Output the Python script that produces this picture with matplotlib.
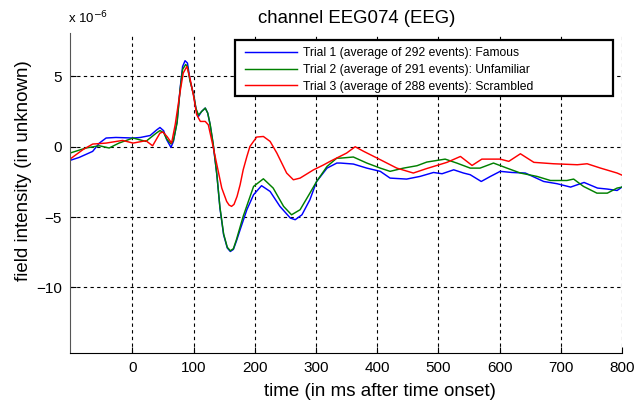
import matplotlib
matplotlib.use("Agg")
import matplotlib.pyplot as plt
from matplotlib.patches import Rectangle

plt.rcParams['font.family'] = ['Liberation Sans', 'DejaVu Sans']

title = "channel EEG074 (EEG)"
xlabel = "time (in ms after time onset)"
ylabel = "field intensity (in unknown)"
labels = ["Trial 1 (average of 292 events): Famous",
          "Trial 2 (average of 291 events): Unfamiliar",
          "Trial 3 (average of 288 events): Scrambled"]
colors = ["#0000ff", "#008000", "#ff0000"]

xticks = [0, 100, 200, 300, 400, 500, 600, 700, 800]
yticks = [-10, -5, 0, 5]

# values in units of 1e-6
t_famous = [-102, -87, -65, -54, -43, -27, 1, 13, 29, 40, 45, 51, 56, 63, 67, 73, 78, 82,
            86, 90, 94, 100, 104, 108, 113, 119, 123, 127, 132, 138, 143, 149, 155, 160,
            165, 170, 176, 187, 198, 211, 225, 241, 258, 266, 277, 290, 301, 318, 334, 340,
            361, 383, 405, 421, 448, 470, 492, 506, 525, 541, 552, 570, 585, 601, 620, 642,
            672, 694, 716, 738, 760, 776, 792, 800]
v_famous = [-0.97, -0.76, -0.33, 0.26, 0.62, 0.66, 0.62, 0.66, 0.8, 1.21, 1.37, 1.14, 0.5,
            -0.05, 0.38, 1.8, 4.17, 5.71, 6.12, 5.95, 4.76, 3.7, 2.63, 2.16, 2.51, 2.75, 2.4,
            1.56, 0.14, -2.0, -4.36, -6.26, -7.2, -7.45, -7.3, -6.7, -5.9, -4.48, -3.41,
            -2.77, -3.18, -4.24, -5.07, -5.19, -4.84, -3.77, -2.47, -1.52, -1.16, -1.16,
            -1.23, -1.52, -1.75, -2.23, -2.3, -2.11, -1.83, -1.92, -1.64, -1.87, -1.99,
            -2.47, -2.11, -1.75, -1.83, -1.87, -2.47, -2.63, -2.87, -2.54, -2.94, -3.01,
            -3.11, -2.87]

t_unfamiliar = [-102, -76, -54, -38, -22, 1, 22, 39, 45, 51, 56, 63, 67, 73, 78, 82, 87, 90,
                94, 100, 104, 108, 113, 119, 123, 127, 132, 138, 143, 149, 155, 160, 165,
                170, 181, 198, 214, 230, 247, 260, 274, 290, 301, 318, 334, 340, 361, 383,
                405, 421, 443, 465, 481, 511, 530, 552, 568, 590, 612, 634, 661, 683, 710,
                721, 737, 759, 776, 792, 800]
v_unfamiliar = [-0.45, -0.09, 0.07, -0.09, 0.26, 0.62, 0.38, 0.97, 1.15, 1.0, 0.55, 0.2,
                0.45, 1.7, 4.1, 5.5, 5.85, 5.7, 4.7, 3.7, 2.7, 2.25, 2.5, 2.75, 2.4, 1.6, 0.2,
                -2.0, -4.3, -6.2, -7.15, -7.4, -7.25, -6.6, -4.95, -2.82, -2.28, -2.94,
                -4.24, -4.84, -4.48, -3.3, -2.47, -1.4, -0.81, -0.81, -0.73, -1.16, -1.52,
                -1.75, -1.52, -1.35, -1.09, -0.88, -1.16, -1.52, -1.52, -1.16, -1.52, -1.87,
                -2.11, -2.4, -2.4, -2.3, -2.82, -3.3, -3.3, -2.94, -2.87]

t_scrambled = [-102, -81, -65, -43, -16, 1, 22, 33, 45, 50, 57, 64, 70, 78, 83, 89, 94, 100,
               105, 111, 119, 124, 130, 138, 146, 154, 158, 162, 166, 171, 176, 181, 187,
               192, 203, 214, 225, 236, 252, 263, 274, 296, 312, 323, 339, 350, 364, 378,
               400, 432, 459, 481, 514, 536, 555, 571, 601, 615, 634, 656, 688, 727, 743,
               765, 792, 800]
v_scrambled = [-0.88, -0.21, 0.19, 0.26, 0.45, 0.26, 0.43, 0.07, 0.97, 1.05, 0.7, 0.26, 1.6,
               3.93, 5.24, 5.71, 4.88, 3.58, 2.28, 1.8, 1.8, 1.56, 0.38, -1.28, -2.94,
               -3.89, -4.15, -4.24, -4.1, -3.53, -2.7, -1.64, -0.7, 0.02, 0.69, 0.73, 0.38,
               -0.45, -1.87, -2.35, -2.23, -1.64, -1.3, -1.04, -0.69, -0.45, 0.0, -0.33,
               -0.81, -1.52, -1.87, -1.55, -1.11, -0.69, -1.33, -0.88, -0.88, -1.04, -0.5,
               -1.11, -1.21, -1.28, -1.21, -1.52, -1.87, -2.02]

W, H = 643, 404
fig = plt.figure(figsize=(W / 100, H / 100), dpi=100)
ax = fig.add_axes([70 / W, 1 - 353 / H, 552 / W, 320 / H])

series = [(t_famous, v_famous), (t_unfamiliar, v_unfamiliar), (t_scrambled, v_scrambled)]
for (t, v), c, lab in zip(series, colors, labels):
    ax.plot(t, v, color=c, lw=1.05, label=lab, solid_joinstyle='round')

ax.set_xlim(-102, 800)
ax.set_ylim(-14.67, 8.09)
ax.set_xticks(xticks)
ax.set_yticks(yticks)
ax.grid(True, color='black', linestyle=(0, (3, 3)), linewidth=0.8)
ax.tick_params(direction='in', length=4, labelsize=11, colors='black', pad=6)
for s in ['top', 'right']:
    ax.spines[s].set_visible(False)
ax.spines['left'].set_color('#555555')
ax.spines['bottom'].set_color('black')

# title and axis labels placed where the reference has them
fig.text(357 / W, 1 - 18.5 / H, title, fontsize=13.4, ha='center', va='center')
fig.text(380 / W, 1 - 391 / H, xlabel, fontsize=13.5, ha='center', va='center')
fig.text(24 / W, 1 - 171 / H, ylabel, fontsize=13.5, ha='center', va='center',
         rotation=90)
ax.text(-2 / 552, 1.02, r"x 10$^{-6}$", transform=ax.transAxes, fontsize=9.5,
        ha='left', va='bottom')

# legend box (MATLAB style, wider than content)
box = Rectangle((235 / W, 1 - 96 / H), 378 / W, 56 / H, transform=fig.transFigure,
                facecolor='white', edgecolor='black', linewidth=1.6, zorder=4,
                clip_on=False)
ax.add_patch(box)
leg = ax.legend(loc='upper left', bbox_to_anchor=(245 / W, 1 - 47 / H),
                bbox_transform=fig.transFigure, fontsize=8.7, frameon=False,
                handlelength=4.3, borderpad=0, labelspacing=0.40, handletextpad=0.5,
                borderaxespad=0)
leg.set_zorder(6)

fig.savefig("out.png", dpi=100)
